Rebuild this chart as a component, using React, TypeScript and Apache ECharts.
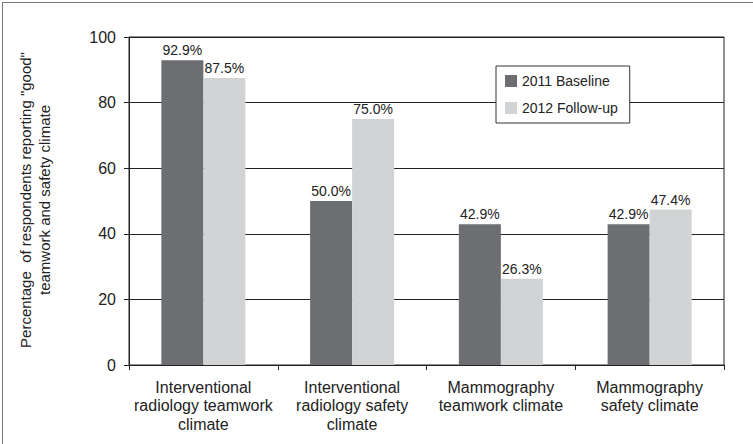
import React, { useEffect, useRef } from "react";
import * as echarts from "echarts";

const categories = [
  "Interventional\nradiology teamwork\nclimate",
  "Interventional\nradiology safety\nclimate",
  "Mammography\nteamwork climate",
  "Mammography\nsafety climate",
];
const baseline2011 = [92.9, 50.0, 42.9, 42.9];
const followup2012 = [87.5, 75.0, 26.3, 47.4];
const seriesNames = ["2011 Baseline", "2012 Follow-up"];
const yTitleLines = ['Percentage  of respondents reporting "good"', "teamwork and safety climate"];

const FONT = "Liberation Sans, Arial, Helvetica, sans-serif";

export default function App() {
  const ref = useRef<HTMLDivElement>(null);
  useEffect(() => {
    document.body.style.margin = "0";
    const chart = echarts.init(ref.current!, null, { renderer: "svg" });
    const label = {
      show: true,
      position: "top" as const,
      distance: 3,
      color: "#222",
      fontSize: 14,
      fontFamily: FONT,
      formatter: (p: any) => Number(p.value).toFixed(1) + "%",
    };
    const titleFont = "15px " + FONT;
    const centerY = 200;
    chart.setOption({
      animation: false,
      backgroundColor: "#ffffff",
      textStyle: { fontFamily: FONT },
      grid: { left: 129, right: 29, top: 37, bottom: 79, show: true, borderColor: "#222", borderWidth: 1 },
      legend: {
        orient: "vertical",
        left: 496,
        top: 66,
        padding: [8, 12, 8, 9],
        backgroundColor: "#fff",
        borderColor: "#333",
        borderWidth: 1,
        itemWidth: 12,
        itemHeight: 12,
        itemGap: 13,
        icon: "rect",
        textStyle: { fontSize: 14, color: "#222", fontFamily: FONT },
        data: seriesNames,
      },
      xAxis: {
        type: "category",
        data: categories,
        axisLine: { lineStyle: { color: "#222", width: 1 } },
        axisTick: { show: true, length: 5, lineStyle: { color: "#222" } },
        axisLabel: { fontSize: 16, color: "#222", lineHeight: 18.5, margin: 13, interval: 0, fontFamily: FONT },
      },
      yAxis: {
        type: "value",
        min: 0,
        max: 100,
        interval: 20,
        axisLine: { show: true, lineStyle: { color: "#222", width: 1 } },
        axisTick: { show: true, length: 5, lineStyle: { color: "#222" } },
        axisLabel: { fontSize: 16, color: "#222", margin: 13, fontFamily: FONT },
        splitLine: { show: true, lineStyle: { color: "#222", width: 1 } },
      },
      series: [
        {
          name: seriesNames[0],
          type: "bar",
          data: baseline2011,
          barGap: "0%",
          barCategoryGap: "43.5%",
          itemStyle: { color: "#6d6e71" },
          label,
        },
        {
          name: seriesNames[1],
          type: "bar",
          data: followup2012,
          itemStyle: { color: "#d1d3d4" },
          label,
        },
      ],
      graphic: [
        {
          type: "rect",
          left: 0,
          top: 0,
          shape: { x: 0.5, y: 0.5, width: 752, height: 443 },
          style: { fill: "none", stroke: "#777", lineWidth: 1 },
          silent: true,
        },
        ...yTitleLines.map((t, i) => {
          const w = (echarts.format as any).getTextRect
            ? (echarts.format as any).getTextRect(t, titleFont).width
            : t.length * 7;
          return {
            type: "text",
            left: 18 + i * 19,
            top: centerY - w / 2,
            rotation: Math.PI / 2,
            silent: true,
            style: {
              text: t,
              fontSize: 15,
              fontFamily: FONT,
              fill: "#222",
            },
          };
        }),
      ],
    });
    return () => chart.dispose();
  }, []);
  return <div ref={ref} style={{ width: 753, height: 444, position: "absolute", left: 0, top: 0 }} />;
}
